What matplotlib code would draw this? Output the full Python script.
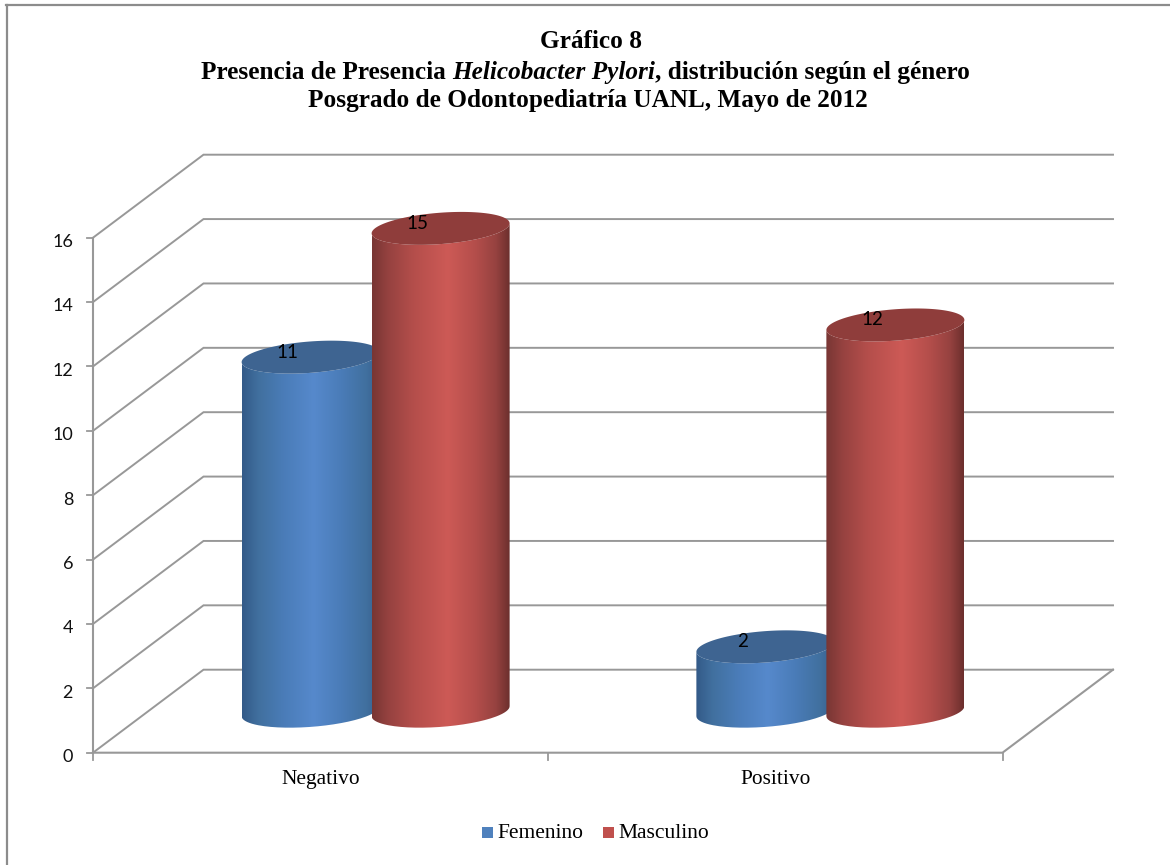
import matplotlib
matplotlib.use("Agg")
import matplotlib.pyplot as plt
from matplotlib.colors import LinearSegmentedColormap
from matplotlib.lines import Line2D
from matplotlib.patches import PathPatch, Rectangle
from matplotlib.path import Path
import numpy as np

# ----- data -----
categories = ["Negativo", "Positivo"]
series_names = ["Femenino", "Masculino"]
femenino = [11, 2]
masculino = [15, 12]
y_ticks = [0, 2, 4, 6, 8, 10, 12, 14, 16]

title_top = "Gráfico 8"
title_mid = ["Presencia de Presencia ", "Helicobacter Pylori", ", distribución según el género"]
title_low = "Posgrado de Odontopediatría UANL, Mayo de 2012"

W, H = 1170, 865
SERIF = "Liberation Serif"
SANS = "Lato"
GRID = "#989898"

fig = plt.figure(figsize=(W / 100, H / 100), dpi=100, facecolor="white")

# axes sits on the front plane of the 3D box
left, right, bottom, top = 93, 1002.5, 752.7, 237.7
ax = fig.add_axes([left / W, 1 - bottom / H, (right - left) / W, (bottom - top) / H])
ax.set_xlim(0, 2)
ax.set_ylim(0, 16)
ax.axis("off")

px_x = (right - left) / 2
px_y = (bottom - top) / 16
dx = 110.5 / px_x   # depth offset in data units
dy = 83 / px_y

# chart frame, only top and left edges show in the picture
fig.add_artist(Line2D([7 / W, 7 / W], [0, 1 - 5 / H], transform=fig.transFigure, color="#8c8c8c", lw=1.6))
fig.add_artist(Line2D([6 / W, 1], [1 - 5 / H, 1 - 5 / H], transform=fig.transFigure, color="#8c8c8c", lw=1.6))

# ----- walls -----
for v in y_ticks:
    ax.plot([0, dx, 2 + dx], [v, v + dy, v + dy], color=GRID, lw=1.4, clip_on=False,
            solid_joinstyle="miter", zorder=1)
    ax.plot([-6.5 / px_x, 0], [v, v], color=GRID, lw=1.3, clip_on=False, zorder=1)
ax.plot([0, 0], [0, 16], color=GRID, lw=1.5, clip_on=False, zorder=1)
ax.plot([0, 2, 2 + dx], [0, 0, dy], color=GRID, lw=1.5, clip_on=False, zorder=1)
for xt in [0, 1, 2]:
    ax.plot([xt, xt], [0, -7 / px_y], color=GRID, lw=1.3, clip_on=False, zorder=1)

for v in y_ticks:
    ax.text(-20 / px_x, v - 4.3 / px_y, str(v), ha="right", va="center", fontsize=13, family=SANS, color="#111111")
for i, c in enumerate(categories):
    ax.text(i + 0.5, -27 / px_y, c, ha="center", va="center", fontsize=15.4, family=SERIF, color="black")

# ----- cylinders -----
blue_cmap = LinearSegmentedColormap.from_list(
    "b", [(0, "#335a88"), (0.12, "#41709f"), (0.3, "#4a7cb8"), (0.52, "#5689cc"),
          (0.72, "#4a7cb8"), (0.9, "#41709f"), (1, "#375f8e")])
red_cmap = LinearSegmentedColormap.from_list(
    "r", [(0, "#783634"), (0.12, "#964240"), (0.3, "#b44e4b"), (0.55, "#cd5a56"),
          (0.75, "#b44e4b"), (0.9, "#964240"), (1, "#6c2f2d")])

half_w = 69 / px_x
tilt = 5 / px_y
minor = 15.7 / px_y
bar_step = 130 / px_x


def ellipse_points(cx, cy, n=120):
    t = np.linspace(0, 2 * np.pi, n)
    return cx + half_w * np.cos(t), cy + tilt * np.cos(t) + minor * np.sin(t)


def draw_cylinder(cx, value, cmap, top_color, z):
    base_y = 0.5 * dy
    t = np.linspace(np.pi, 2 * np.pi, 80)
    low_x = cx + half_w * np.cos(t)
    low_y = base_y + tilt * np.cos(t) + minor * np.sin(t)
    t2 = t[::-1]
    up_x = cx + half_w * np.cos(t2)
    up_y = value + base_y + tilt * np.cos(t2) + minor * np.sin(t2)
    verts = np.column_stack([np.r_[low_x, up_x, low_x[0]], np.r_[low_y, up_y, low_y[0]]])
    body = PathPatch(Path(verts), facecolor="none", edgecolor="none", transform=ax.transData)
    ax.add_patch(body)
    im = ax.imshow(np.linspace(0, 1, 256).reshape(1, -1), cmap=cmap, aspect="auto",
                   extent=[cx - half_w, cx + half_w, base_y - minor * 1.2, value + base_y + minor * 1.2],
                   zorder=z, interpolation="bilinear")
    im.set_clip_path(body)
    im.set_clip_box(fig.bbox)   # bar tops go past the axes box
    ex, ey = ellipse_points(cx, value + base_y)
    ax.fill(ex, ey, facecolor=top_color, edgecolor="none", zorder=z + 0.1, clip_on=False)
    ax.text(cx - 23 / px_x, value + base_y + 5 / px_y, str(value), ha="center", va="center", fontsize=13.5,
            family=SANS, color="black", zorder=20)


for i in range(len(categories)):
    group_c = i + 0.5 + 0.5 * dx
    draw_cylinder(group_c - bar_step / 2, femenino[i], blue_cmap, "#3e6491", 3 + i)
    draw_cylinder(group_c + bar_step / 2, masculino[i], red_cmap, "#8f3d3b", 5 + i)

ax.set_xlim(0, 2)
ax.set_ylim(0, 16)

# ----- title -----
TITLE_SIZE = 18.2
fig.text(591 / W, 1 - 48 / H, title_top, ha="center", va="baseline", fontsize=TITLE_SIZE,
         fontweight="bold", family=SERIF)
fig.text(588 / W, 1 - 107.5 / H, title_low, ha="center", va="baseline", fontsize=TITLE_SIZE,
         fontweight="bold", family=SERIF)

renderer = fig.canvas.get_renderer()
pieces = []
for s, st in zip(title_mid, ["normal", "italic", "normal"]):
    pieces.append(fig.text(0, 1 - 79 / H, s, ha="left", va="baseline", fontsize=TITLE_SIZE,
                           fontweight="bold", family=SERIF, style=st))
probe = [t.get_window_extent(renderer).width for t in pieces]
x = 585 - sum(probe) / 2
for t, w in zip(pieces, probe):
    t.set_x(x / W)
    x += w

# ----- legend -----
fig.add_artist(Rectangle((482 / W, 1 - 838 / H), 11 / W, 11 / H, transform=fig.transFigure,
                         facecolor="#4f81bd", edgecolor="none"))
fig.text(497 / W, 1 - 834 / H, series_names[0], ha="left", va="center", fontsize=15.5, family=SERIF)
fig.add_artist(Rectangle((603 / W, 1 - 838 / H), 11 / W, 11 / H, transform=fig.transFigure,
                         facecolor="#c0504d", edgecolor="none"))
fig.text(618 / W, 1 - 834 / H, series_names[1], ha="left", va="center", fontsize=15.5, family=SERIF)

fig.savefig("out.png", dpi=100, facecolor="white")
